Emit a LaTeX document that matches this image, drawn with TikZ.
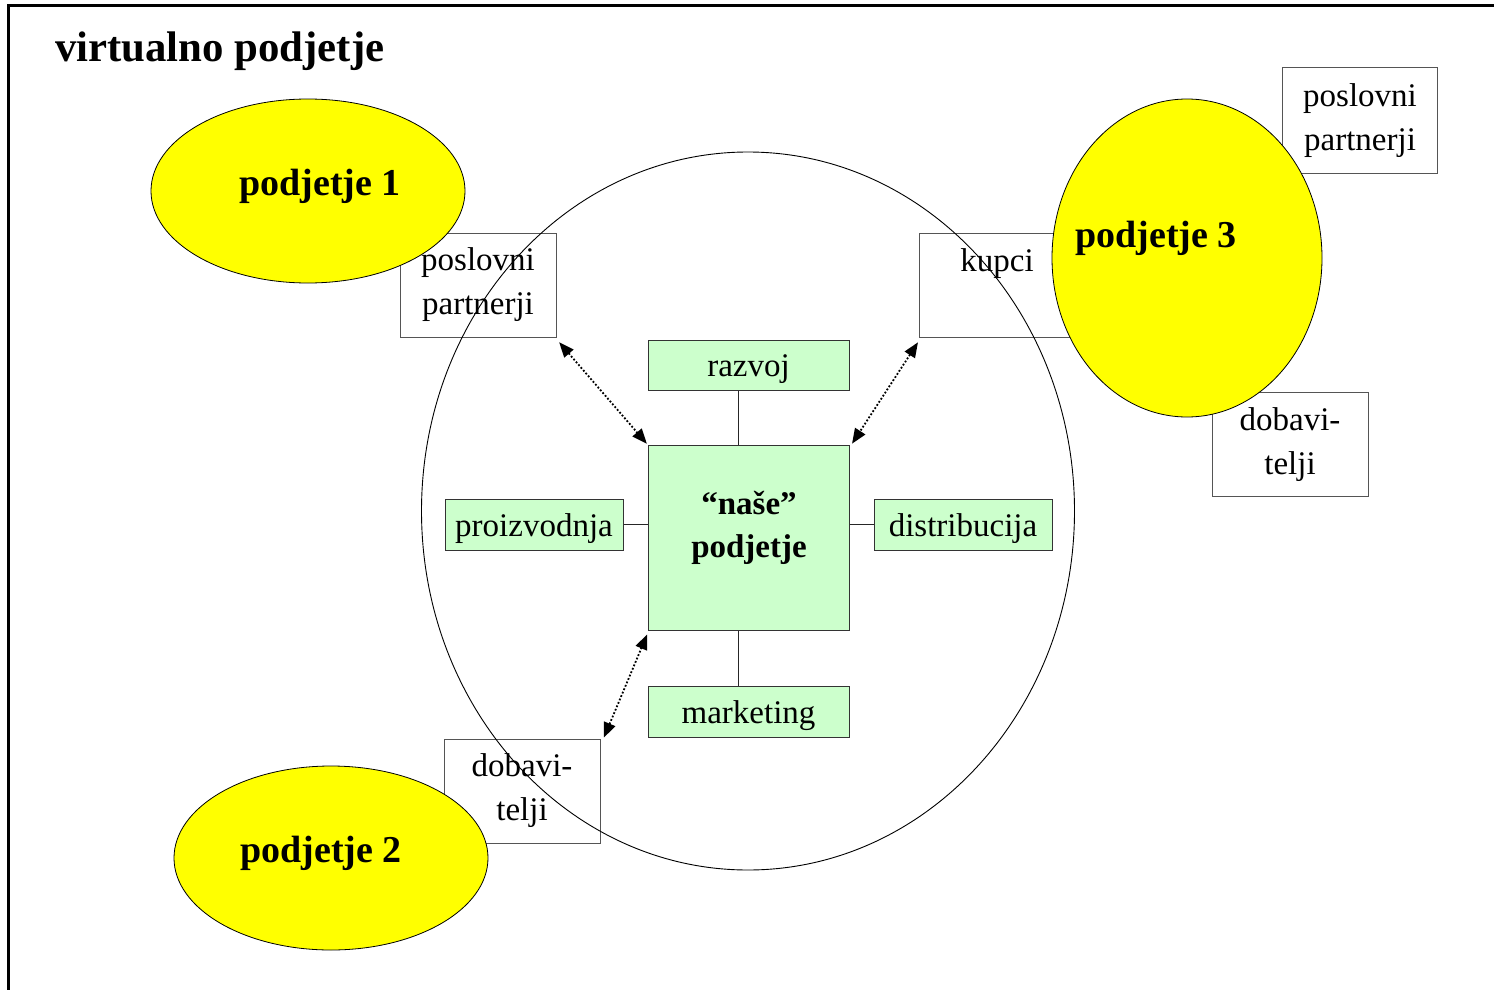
\documentclass[tikz,border=0pt]{standalone}
\usepackage{fontspec}
\setmainfont{Liberation Serif}
\usetikzlibrary{arrows.meta,shapes.geometric}
\definecolor{sunyellow}{HTML}{FFFF00}
\definecolor{palegreen}{HTML}{CCFFCC}
\definecolor{boxgray}{HTML}{555555}
\tikzset{
  wbox/.style={draw=boxgray, line width=1pt, fill=white, minimum width=156pt, minimum height=104pt, inner sep=0pt},
  gbox/.style={draw=black!80, line width=1pt, fill=palegreen, inner sep=0pt},
  txt/.style={font=\fontsize{33}{44}\selectfont, align=center, inner sep=0pt},
  btxt/.style={font=\fontsize{38}{44}\selectfont\bfseries, align=center, inner sep=0pt},
  firm/.style={ellipse, draw=black, line width=0.8pt, fill=sunyellow, inner sep=0pt},
  link/.style={line width=1pt, draw=black!85},
  dotarrow/.style={line width=1.8pt, dash pattern=on 1.8pt off 1.9pt, {Triangle[length=15pt,width=12pt]}-{Triangle[length=15pt,width=12pt]}, shorten <=1pt, shorten >=1pt}
}
\begin{document}
\begin{tikzpicture}[x=1pt, y=-1pt]
\useasboundingbox (0,0) rectangle (1494,990);
% outer frame (only left and top edges visible)
\draw[line width=3pt] (8,990) -- (8,6) -- (1494,6);
\node[anchor=base west, font=\fontsize{42.8}{48}\selectfont\bfseries, inner sep=0pt] (title) at (55,62) {virtualno podjetje};

% partner boxes
\node[wbox] (pp1) at (478,285) {};
\node[txt] (pp1t) at (478,284.5) {poslovni\\partnerji};
\node[wbox] (kup) at (997,285) {};
\node[txt] (kupt) at (997,263.5) {kupci};
\node[wbox, minimum width=155pt, minimum height=105pt] (pp3) at (1359.5,120.5) {};
\node[txt] (pp3t) at (1360,121) {poslovni\\partnerji};
\node[wbox] (dob3) at (1290,444.5) {};
\node[txt] (dob3t) at (1290,444.5) {dobavi-\\telji};
\node[wbox] (dob2) at (522,791) {};
\node[txt] (dob2t) at (522,791) {dobavi-\\telji};

% the own company and its functions
\node[gbox, minimum width=201pt, minimum height=185pt] (nase) at (748.5,537.5) {};
\node[btxt, font=\fontsize{33}{43}\selectfont\bfseries] (naset) at (749,528) {“naše”\\podjetje};
\node[gbox, minimum width=201pt, minimum height=50pt] (razvoj) at (748.5,365) {};
\node[txt] (razvojt) at (748.5,369.5) {razvoj};
\node[gbox, minimum width=201pt, minimum height=51pt] (mark) at (748.5,711.5) {};
\node[txt] (markt) at (748.5,715.5) {marketing};
\node[gbox, minimum width=178pt, minimum height=51pt] (proiz) at (534,524.5) {};
\node[txt] (proizt) at (534,528.5) {proizvodnja};
\node[gbox, minimum width=178pt, minimum height=51pt] (distr) at (963,524.5) {};
\node[txt] (distrt) at (963,528.5) {distribucija};

\draw[link] ([xshift=-10.5pt]razvoj.south) -- ([xshift=-10.5pt]nase.north);
\draw[link] ([xshift=-10.5pt]nase.south) -- ([xshift=-10.5pt]mark.north);
\draw[link] (proiz.east) -- (proiz.east -| nase.west);
\draw[link] (distr.west) -- (distr.west -| nase.east);

% links to the partner firms
\draw[dotarrow] ([shift={(2,4)}]pp1.south east) -- (nase.north west);
\draw[dotarrow] ([shift={(0,4)}]kup.south west) -- ([xshift=2pt]nase.north east);
\draw[dotarrow] ([shift={(3,0)}]dob2.north east) -- ([yshift=-3pt]nase.south west);

% boundary of the virtual company
\draw[line width=0.9pt] (748,511) ellipse [x radius=326.5, y radius=359];

% partner firms
\node[firm, minimum width=314pt, minimum height=184pt] (f1) at (308,191) {};
\node[btxt] (f1t) at (320,186) {podjetje 1};
\node[firm, minimum width=314pt, minimum height=184pt] (f2) at (331,858) {};
\node[btxt] (f2t) at (321,853) {podjetje 2};
\node[firm, minimum width=270pt, minimum height=318pt] (f3) at (1187,258) {};
\node[btxt] (f3t) at (1156,238) {podjetje 3};
\end{tikzpicture}
\end{document}
